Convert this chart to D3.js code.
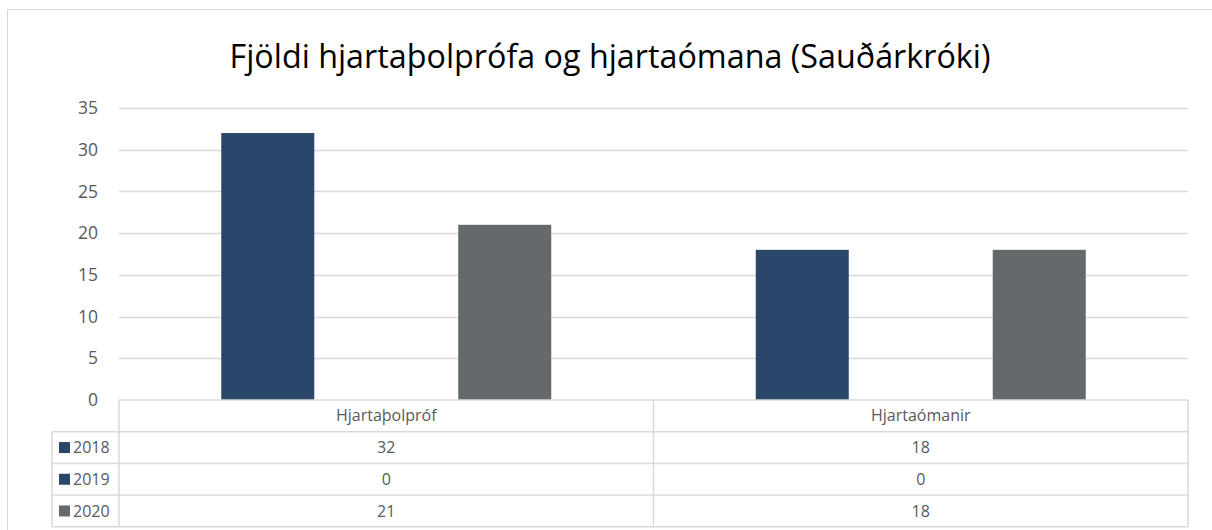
<!DOCTYPE html>
<html>
<head>
<meta charset="utf-8">
<script src="https://cdn.jsdelivr.net/npm/d3@7"></script>
<style>
  body { margin: 0; background: #fff; }
  svg { display: block; font-family: "Open Sans", sans-serif; }
</style>
</head>
<body>
<div id="chart"></div>
<script>
// chart data
var title = "Fjöldi hjartaþolprófa og hjartaómana (Sauðárkróki)";
var categories = ["Hjartaþolpróf", "Hjartaómanir"];
var years = ["2018", "2019", "2020"];
var values2018 = [32, 18];
var values2019 = [0, 0];
var values2020 = [21, 18];
var yTicks = [0, 5, 10, 15, 20, 25, 30, 35];
var colors = ["#2a4669", "#2a4669", "#64696c"];

var series = [values2018, values2019, values2020];

var w = 1212, h = 530;
var plotLeft = 119, plotRight = 1188, plotTop = 108, base = 400;
var rowH = 31.7;

var svg = d3.select("#chart").append("svg")
  .attr("width", w)
  .attr("height", h);

// outer frame (right and bottom run off the picture)
svg.append("rect")
  .attr("x", 7.5).attr("y", 9.5)
  .attr("width", 1220).attr("height", 540)
  .attr("fill", "none")
  .attr("stroke", "#d9d9d9");

svg.append("text")
  .attr("x", 610).attr("y", 68)
  .attr("text-anchor", "middle")
  .attr("font-size", 32.5)
  .attr("textLength", 761)
  .attr("lengthAdjust", "spacingAndGlyphs")
  .attr("fill", "#000")
  .text(title);

var y = d3.scaleLinear().domain([0, 35]).range([base, plotTop]);
var x0 = d3.scaleBand().domain(categories).range([plotLeft, plotRight]);
var x1 = d3.scaleBand().domain(years).range([0, x0.bandwidth()])
  .paddingInner(0.215).paddingOuter(0.863);

// gridlines
svg.append("g").selectAll("line")
  .data(yTicks.filter(function(d){ return d > 0; }))
  .enter().append("line")
  .attr("x1", plotLeft).attr("x2", plotRight)
  .attr("y1", function(d){ return Math.round(y(d)) + 0.5; })
  .attr("y2", function(d){ return Math.round(y(d)) + 0.5; })
  .attr("stroke", "#d9d9d9")
  .attr("stroke-width", 1.5);

// y axis labels
var yAxis = d3.axisLeft(y).tickValues(yTicks).tickSize(0).tickPadding(0);
var ga = svg.append("g")
  .attr("transform", "translate(98,0)")
  .call(yAxis);
ga.select(".domain").remove();
ga.selectAll("text")
  .attr("font-family", "Open Sans, sans-serif")
  .attr("font-size", 17.5)
  .attr("fill", "#595959");

// bars
var groups = svg.append("g").selectAll("g")
  .data(categories)
  .enter().append("g")
  .attr("transform", function(d){ return "translate(" + x0(d) + ",0)"; });

groups.selectAll("rect")
  .data(function(d, i){
    return years.map(function(yr, j){ return {year: yr, value: series[j][i], color: colors[j]}; });
  })
  .enter().append("rect")
  .attr("x", function(d){ return x1(d.year); })
  .attr("width", x1.bandwidth())
  .attr("y", function(d){ return y(d.value); })
  .attr("height", function(d){ return base - y(d.value); })
  .attr("fill", function(d){ return d.color; });

// data table
var tbl = svg.append("g")
  .attr("fill", "none")
  .attr("stroke", "#d9d9d9")
  .attr("stroke-width", 1.5);

tbl.append("line").attr("x1", plotLeft).attr("x2", plotRight).attr("y1", base).attr("y2", base);
categories.concat([null]).forEach(function(c){
  var xx = c === null ? plotRight : x0(c);
  tbl.append("line").attr("x1", xx).attr("x2", xx).attr("y1", base).attr("y2", base + rowH * 4);
});
years.forEach(function(yr, i){
  var yy = base + rowH * (i + 1);
  tbl.append("line").attr("x1", 52).attr("x2", plotRight).attr("y1", yy).attr("y2", yy);
});
tbl.append("line").attr("x1", 52).attr("x2", plotRight).attr("y1", base + rowH * 4).attr("y2", base + rowH * 4);
tbl.append("line").attr("x1", 52).attr("x2", 52).attr("y1", base + rowH).attr("y2", base + rowH * 4);

svg.append("g").selectAll("text")
  .data(categories)
  .enter().append("text")
  .attr("x", function(d){ return x0(d) + x0.bandwidth() / 2; })
  .attr("y", base + rowH / 2)
  .attr("dy", "0.35em")
  .attr("text-anchor", "middle")
  .attr("font-size", 16)
  .attr("fill", "#595959")
  .text(function(d){ return d; });

var rows = svg.append("g").selectAll("g")
  .data(years)
  .enter().append("g")
  .attr("transform", function(d, i){ return "translate(0," + (base + rowH * (i + 1.5)) + ")"; });

rows.append("rect")
  .attr("x", 59).attr("y", -5.5)
  .attr("width", 11).attr("height", 11)
  .attr("fill", function(d, i){ return colors[i]; });

rows.append("text")
  .attr("x", 73).attr("dy", "0.35em")
  .attr("font-size", 16)
  .attr("fill", "#595959")
  .text(function(d){ return d; });

rows.each(function(yr, j){
  d3.select(this).selectAll("text.val")
    .data(series[j])
    .enter().append("text")
    .attr("class", "val")
    .attr("x", function(d, i){ return x0(categories[i]) + x0.bandwidth() / 2; })
    .attr("dy", "0.35em")
    .attr("text-anchor", "middle")
    .attr("font-size", 16)
    .attr("fill", "#595959")
    .text(function(d){ return d; });
});
</script>
</body>
</html>
